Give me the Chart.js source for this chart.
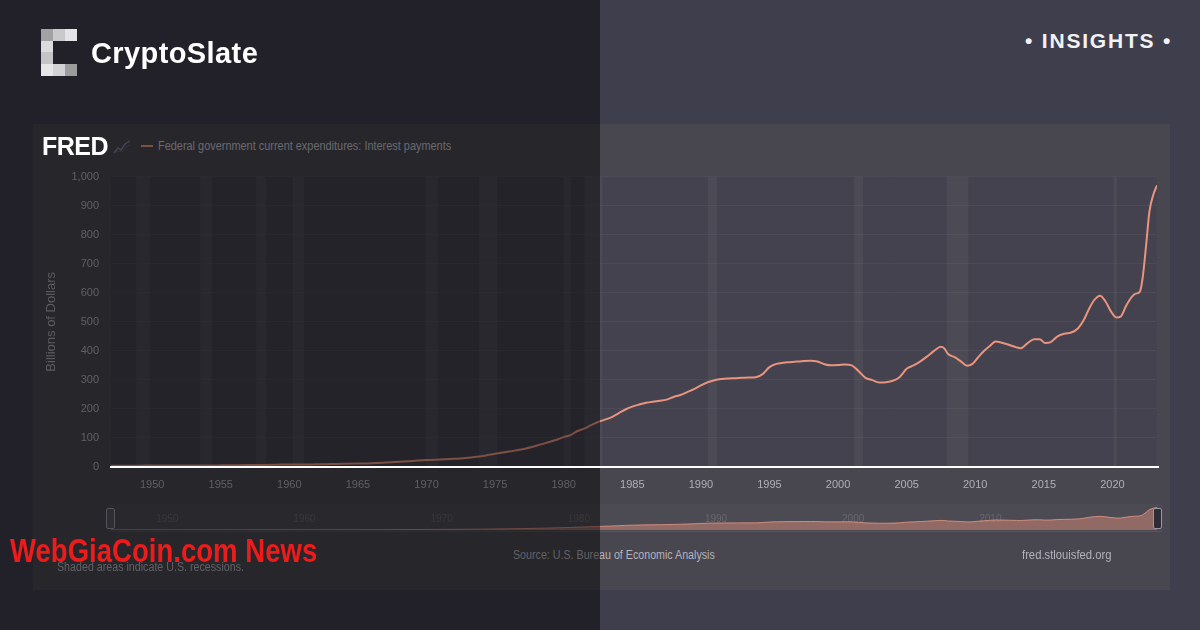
<!DOCTYPE html>
<html>
<head>
<meta charset="utf-8">
<script src="https://cdn.jsdelivr.net/npm/chart.js@4.4.0/dist/chart.umd.min.js"></script>
<style>
html, body { margin: 0; padding: 0; }
body { width: 1200px; height: 630px; background: #3f3e4c; position: relative; overflow: hidden;
       font-family: "Liberation Sans", Arial, sans-serif; }
.abs { position: absolute; }
.sq { transform-origin: 0 0; white-space: nowrap; }
#panel { left: 33px; top: 124px; width: 1137px; height: 466px; background: #48464f; }
#mainChart { left: 35px; top: 158px; }
#navBg { left: 107px; top: 504px; width: 1055px; height: 27px; background: rgba(255,255,255,0.025);
         border-bottom: 1px solid rgba(255,255,255,0.06); }
#navChart { left: 111px; top: 507px; }
#shade { left: 0; top: 0; width: 600px; height: 630px; background: rgba(0,0,0,0.46); z-index: 5; }
.top { z-index: 10; }
.cell { position: absolute; width: 12px; height: 12px; }
</style>
</head>
<body>

<div id="panel" class="abs"></div>

<!-- FRED header (legend) -->
<svg class="abs" style="left:113px;top:139px" width="18" height="16">
  <polyline points="1,14 5,9 8,11 12,5 17,2" fill="none" stroke="#7f7e9a" stroke-width="1.4"/>
  <polyline points="1,15 5,12 9,13 13,8 17,6" fill="none" stroke="#5f5e76" stroke-width="1"/>
</svg>
<div class="abs" style="left:141px;top:145px;width:12px;height:2px;background:#e8947e"></div>
<div class="abs sq" style="left:158px;top:139px;font-size:13px;line-height:14px;color:#c2c1cb;transform:scaleX(0.84)">Federal government current expenditures: Interest payments</div>

<canvas id="mainChart" class="abs" width="1135" height="342"></canvas>
<div id="navBg" class="abs"></div>
<canvas id="navChart" class="abs" width="1046" height="23"></canvas>
<div class="abs" style="left:106px;top:508px;width:7px;height:19px;border:1px solid #9a99a3;border-radius:2px;background:#55535e"></div>
<div class="abs" style="left:1153px;top:508px;width:7px;height:19px;border:1px solid #9a99a3;border-radius:2px;background:#2e2d36"></div>

<div class="abs sq" style="left:57px;top:560px;font-size:12px;line-height:14px;color:#b3b2bc;transform:scaleX(0.89)">Shaded areas indicate U.S. recessions.</div>
<div class="abs sq" style="left:513px;top:548px;font-size:12px;line-height:14px;color:#b3b2bc;transform:scaleX(0.89)">Source: U.S. Bureau of Economic Analysis</div>
<div class="abs sq" style="left:1022px;top:548px;font-size:12.5px;line-height:14px;color:#b3b2bc;transform:scaleX(0.9)">fred.stlouisfed.org</div>

<div id="shade" class="abs"></div>

<!-- items over the dark half -->
<div class="abs top" style="left:41px;top:29px;width:36px;height:47px">
  <div class="cell" style="left:0;top:0;background:#a2a2a4"></div>
  <div class="cell" style="left:12px;top:0;background:#c9c9cb"></div>
  <div class="cell" style="left:24px;top:0;background:#e4e4e6"></div>
  <div class="cell" style="left:0;top:12px;background:#dcdcde"></div>
  <div class="cell" style="left:0;top:23px;background:#c4c4c6"></div>
  <div class="cell" style="left:0;top:35px;background:#e6e6e8"></div>
  <div class="cell" style="left:12px;top:35px;background:#d2d2d4"></div>
  <div class="cell" style="left:24px;top:35px;background:#9c9c9e"></div>
</div>
<div class="abs top" style="left:91px;top:39px;font-size:29px;line-height:29px;font-weight:bold;color:#ffffff;letter-spacing:0.4px;white-space:nowrap">CryptoSlate</div>
<div class="abs top" style="left:1025px;top:30px;font-size:21px;line-height:21px;font-weight:bold;color:#f2f2f5;letter-spacing:1.8px;white-space:nowrap">• INSIGHTS •</div>
<div class="abs top" style="left:42px;top:134px;font-size:25px;line-height:25px;font-weight:bold;color:#ffffff;letter-spacing:-0.5px">FRED</div>
<div class="abs top" style="left:110px;top:466px;width:1049px;height:2px;background:#ffffff"></div>
<div class="abs top sq" style="left:10px;top:534px;font-size:33px;line-height:33px;font-weight:bold;color:#ee1b1b;transform:scaleX(0.835)">WebGiaCoin.com News</div>

<script>
// Federal government current expenditures: interest payments (billions of dollars)
const years = [
  1947, 1948, 1949, 1950, 1951, 1952, 1953, 1954, 1955, 1956, 1957, 1958, 1959,
  1960, 1961, 1962, 1963, 1964, 1965, 1966, 1967, 1968, 1969, 1970, 1971, 1972,
  1973, 1974, 1975, 1976, 1977, 1978, 1979, 1979.5, 1980, 1980.5, 1981, 1981.5,
  1982, 1982.5, 1983, 1983.5, 1984, 1984.5, 1985, 1985.5, 1986, 1986.5, 1987, 1987.5,
  1988, 1988.5, 1989, 1989.5, 1990, 1990.5, 1991, 1991.5, 1992, 1992.5, 1993, 1993.5,
  1994, 1994.5, 1995, 1995.5, 1996, 1996.5, 1997, 1997.5, 1998, 1998.5, 1999, 1999.5,
  2000, 2000.5, 2001, 2001.5, 2002, 2002.5, 2003, 2003.5, 2004, 2004.5, 2005, 2005.5,
  2006, 2006.5, 2007, 2007.5, 2007.75, 2008, 2008.5, 2009, 2009.4, 2009.8, 2010.2, 2010.6,
  2011, 2011.5, 2012, 2012.5, 2013, 2013.3, 2013.8, 2014.3, 2014.7, 2015.1, 2015.5,
  2016, 2016.5, 2017, 2017.5, 2017.9, 2018.3, 2018.7, 2019.1, 2019.5, 2019.9, 2020.3,
  2020.6, 2021, 2021.4, 2021.7, 2022, 2022.2, 2022.45, 2022.7, 2023, 2023.25
];
const interest = [
  4.3, 4.5, 4.6, 4.9, 5.0, 5.1, 5.4, 5.3, 5.6, 6.1, 6.7, 6.9, 7.6,
  8.9, 8.6, 9.2, 10.0, 10.8, 11.8, 13.2, 15.5, 18, 21, 24, 26, 28,
  32, 37, 46, 53, 61, 73, 87, 94, 103, 110, 124, 132,
  144, 155, 163, 172, 185, 198, 208, 215, 221, 225, 228, 232,
  241, 248, 258, 268, 281, 292, 299, 303, 305, 306, 307, 308,
  309, 320, 344, 355, 359, 361, 363, 365, 366, 363, 354, 350,
  351, 353, 350, 330, 307, 299, 291, 292, 297, 310, 338, 350,
  364, 381, 400, 414, 408, 390, 378, 362, 349, 355, 377, 398,
  414, 432, 427, 420, 412, 409, 426, 440, 440, 427, 430,
  450, 459, 463, 478, 505, 545, 576, 590, 570, 535, 515,
  518, 555, 585, 597, 604, 650, 760, 880, 940, 970
];

const xTicks = [1950, 1955, 1960, 1965, 1970, 1975, 1980, 1985, 1990, 1995, 2000, 2005, 2010, 2015, 2020];
const yTicks = [0, 100, 200, 300, 400, 500, 600, 700, 800, 900, 1000];
const navTicks = [1950, 1960, 1970, 1980, 1990, 2000, 2010];

// NBER recessions (decimal years)
const recStart = [1948.83, 1953.5, 1957.58, 1960.25, 1969.92, 1973.83, 1980.0, 1981.5, 1990.5, 2001.17, 2007.92, 2020.08];
const recEnd   = [1949.83, 1954.33, 1958.33, 1961.08, 1970.83, 1975.17, 1980.5, 1982.83, 1991.17, 2001.83, 2009.5, 2020.33];

const FONT = '"Liberation Sans", Arial, sans-serif';
const points = years.map((yr, i) => ({ x: yr, y: interest[i] }));
const xMin = years[0], xMax = years[years.length - 1];

const plotBands = {
  id: 'plotBands',
  beforeDraw(chart) {
    const { ctx, chartArea: a, scales: { x } } = chart;
    ctx.save();
    ctx.fillStyle = '#43424e';
    ctx.fillRect(a.left, a.top, a.right - a.left, a.bottom - a.top);
    ctx.fillStyle = 'rgba(255,255,255,0.045)';
    recStart.forEach((s, i) => {
      const x0 = x.getPixelForValue(s), x1 = x.getPixelForValue(recEnd[i]);
      ctx.fillRect(x0, a.top, Math.max(x1 - x0, 2), a.bottom - a.top);
    });
    ctx.restore();
  }
};

new Chart(document.getElementById('mainChart'), {
  type: 'line',
  data: {
    datasets: [{
      data: points,
      borderColor: '#e8947e',
      borderWidth: 2,
      pointRadius: 0,
      cubicInterpolationMode: 'monotone',
      fill: false
    }]
  },
  options: {
    responsive: false,
    animation: false,
    layout: { padding: { top: 7, right: 13, left: 0, bottom: 0 } },
    plugins: { legend: { display: false }, tooltip: { enabled: false } },
    scales: {
      x: {
        type: 'linear', min: xMin, max: xMax,
        afterBuildTicks: s => { s.ticks = xTicks.map(v => ({ value: v })); },
        afterFit: s => { s.height = 33; },
        grid: { display: false, drawTicks: false },
        border: { display: false },
        ticks: { color: '#b0afb9', padding: 11, maxRotation: 0, autoSkip: false,
                 font: { family: FONT, size: 11 }, callback: v => String(v) }
      },
      y: {
        min: 0, max: 1000,
        afterBuildTicks: s => { s.ticks = yTicks.map(v => ({ value: v })); },
        afterFit: s => { s.width = 76; },
        grid: { color: 'rgba(255,255,255,0.045)', drawTicks: false },
        border: { display: false },
        ticks: { color: '#b0afb9', padding: 12, font: { family: FONT, size: 11 },
                 callback: v => v.toLocaleString('en-US') },
        title: { display: true, text: 'Billions of Dollars', color: '#a9a8b2',
                 font: { family: FONT, size: 13 }, padding: { top: 9 } }
      }
    }
  },
  plugins: [plotBands]
});

const navLabels = {
  id: 'navLabels',
  beforeDatasetsDraw(chart) {
    const { ctx, chartArea: a, scales: { x } } = chart;
    ctx.save();
    ctx.font = '10px ' + FONT;
    ctx.fillStyle = 'rgba(255,255,255,0.15)';
    ctx.textBaseline = 'middle';
    navTicks.forEach(t => {
      ctx.fillText(String(t), x.getPixelForValue(t) + 4, (a.top + a.bottom) / 2 + 1);
    });
    ctx.restore();
  }
};

new Chart(document.getElementById('navChart'), {
  type: 'line',
  data: {
    datasets: [{
      data: points,
      borderColor: 'rgba(236,156,136,0.75)',
      backgroundColor: 'rgba(233,147,125,0.45)',
      borderWidth: 1,
      pointRadius: 0,
      fill: 'origin'
    }]
  },
  options: {
    responsive: false,
    animation: false,
    layout: { padding: 0 },
    plugins: { legend: { display: false }, tooltip: { enabled: false } },
    scales: {
      x: { type: 'linear', min: xMin, max: xMax, display: false },
      y: { min: 0, max: 990, display: false }
    }
  },
  plugins: [navLabels]
});
</script>
</body>
</html>
